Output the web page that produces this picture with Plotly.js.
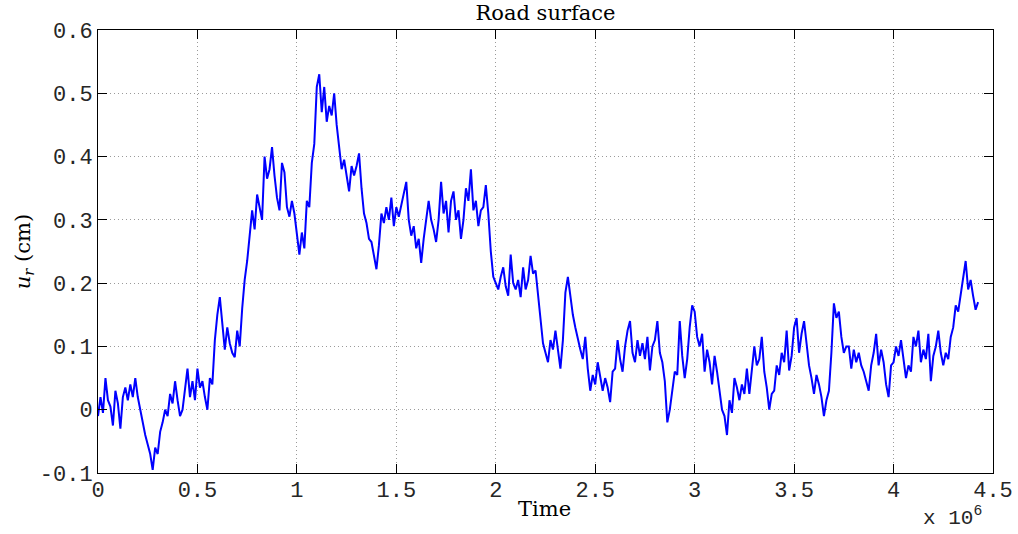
<!DOCTYPE html>
<html>
<head>
<meta charset="utf-8">
<script src="https://cdn.plot.ly/plotly-3.0.1.min.js"></script>
<style>html,body{margin:0;padding:0;background:#fff;}#chart{width:1018px;height:534px;}</style>
</head>
<body>
<div id="chart"></div>
<script>
// Time axis: samples start at t0 and are spaced by dt (x 10^6 scale shown on axis)
const t0 = 0;
const dt = 12500;

// Road surface displacement u_r (cm)
const uR = [
 -0.01, 0.02, -0.005, 0.05, 0.015, 0.005, -0.025, 0.03,
 0.01, -0.03, 0.02, 0.035, 0.015, 0.04, 0.02, 0.05,
 0.02, 0.0, -0.025, -0.04, -0.055, -0.07, -0.095, -0.06,
 -0.07, -0.035, -0.02, 0.0, -0.01, 0.025, 0.01, 0.045,
 0.015, -0.01, 0.0, 0.03, 0.065, 0.02, 0.045, 0.015,
 0.065, 0.035, 0.045, 0.02, 0.0, 0.05, 0.04, 0.11,
 0.15, 0.178, 0.13, 0.095, 0.13, 0.105, 0.09, 0.083,
 0.125, 0.1, 0.16, 0.205, 0.235, 0.275, 0.315, 0.285,
 0.34, 0.32, 0.3, 0.4, 0.365, 0.38, 0.415, 0.37,
 0.335, 0.315, 0.39, 0.375, 0.32, 0.305, 0.33, 0.31,
 0.28, 0.245, 0.28, 0.255, 0.33, 0.32, 0.39, 0.42,
 0.51, 0.53, 0.47, 0.51, 0.455, 0.48, 0.465, 0.5,
 0.45, 0.415, 0.38, 0.395, 0.37, 0.345, 0.385, 0.37,
 0.385, 0.405, 0.35, 0.31, 0.295, 0.27, 0.265, 0.24,
 0.222, 0.26, 0.31, 0.295, 0.32, 0.3, 0.335, 0.29,
 0.32, 0.305, 0.325, 0.345, 0.36, 0.3, 0.275, 0.29,
 0.255, 0.27, 0.232, 0.27, 0.3, 0.33, 0.3, 0.285,
 0.265, 0.3, 0.36, 0.31, 0.33, 0.28, 0.33, 0.345,
 0.3, 0.315, 0.27, 0.3, 0.35, 0.33, 0.38, 0.315,
 0.33, 0.29, 0.315, 0.32, 0.355, 0.31, 0.25, 0.21,
 0.2, 0.19, 0.21, 0.225, 0.195, 0.18, 0.245, 0.2,
 0.19, 0.205, 0.178, 0.225, 0.19, 0.205, 0.243, 0.215,
 0.22, 0.18, 0.14, 0.105, 0.09, 0.075, 0.11, 0.095,
 0.125, 0.09, 0.065, 0.11, 0.185, 0.21, 0.175, 0.15,
 0.13, 0.11, 0.095, 0.08, 0.115, 0.065, 0.03, 0.055,
 0.04, 0.075, 0.055, 0.03, 0.05, 0.035, 0.012, 0.06,
 0.065, 0.11, 0.08, 0.06, 0.1, 0.125, 0.14, 0.09,
 0.075, 0.11, 0.085, 0.105, 0.08, 0.115, 0.062, 0.1,
 0.11, 0.14, 0.09, 0.075, 0.045, -0.02, 0.0, 0.03,
 0.06, 0.055, 0.14, 0.085, 0.05, 0.08, 0.13, 0.165,
 0.155, 0.115, 0.1, 0.12, 0.06, 0.095, 0.075, 0.04,
 0.085, 0.06, 0.03, 0.0, -0.01, -0.04, 0.015, -0.005,
 0.05, 0.035, 0.015, 0.04, 0.025, 0.065, 0.025, 0.06,
 0.1, 0.07, 0.08, 0.115, 0.06, 0.035, 0.0, 0.025,
 0.03, 0.07, 0.055, 0.09, 0.075, 0.125, 0.062, 0.085,
 0.13, 0.145, 0.09, 0.12, 0.14, 0.105, 0.07, 0.05,
 0.025, 0.055, 0.04, 0.02, -0.01, 0.015, 0.03, 0.09,
 0.168, 0.145, 0.155, 0.115, 0.09, 0.1, 0.1, 0.065,
 0.095, 0.075, 0.09, 0.07, 0.06, 0.045, 0.03, 0.07,
 0.09, 0.12, 0.07, 0.095, 0.075, 0.04, 0.02, 0.07,
 0.075, 0.1, 0.085, 0.11, 0.075, 0.05, 0.07, 0.06,
 0.115, 0.1, 0.125, 0.075, 0.095, 0.08, 0.12, 0.045,
 0.085, 0.1, 0.125, 0.09, 0.07, 0.09, 0.08, 0.115,
 0.13, 0.165, 0.155, 0.18, 0.21, 0.235, 0.19, 0.205,
 0.18, 0.158, 0.17
];

// Tick values and labels
const xTickVals = [0, 500000, 1000000, 1500000, 2000000, 2500000, 3000000, 3500000, 4000000, 4500000];
const xTickText = ['0', '0.5', '1', '1.5', '2', '2.5', '3', '3.5', '4', '4.5'];
const yTickVals = [-0.1, 0, 0.1, 0.2, 0.3, 0.4, 0.5, 0.6];
const yTickText = ['-0.1', '0', '0.1', '0.2', '0.3', '0.4', '0.5', '0.6'];

const monoFont = {family: '"Liberation Mono", "DejaVu Sans Mono", monospace', size: 22, color: '#262626'};
const expFont = {family: '"Liberation Mono", "DejaVu Sans Mono", monospace', size: 21, color: '#262626'};
const serifFont = {family: '"DejaVu Serif", "Liberation Serif", serif', size: 21, color: '#000'};

const trace = {
  type: 'scatter',
  mode: 'lines',
  x0: t0,
  dx: dt,
  y: uR,
  line: {color: '#0000ff', width: 2},
  hoverinfo: 'skip'
};

const axisCommon = {
  showline: true,
  linecolor: '#000',
  linewidth: 1,
  mirror: 'ticks',
  ticks: 'inside',
  ticklen: 9,
  tickwidth: 1,
  tickcolor: '#000',
  showgrid: true,
  gridcolor: '#9a9a9a',
  griddash: '1px,3px',
  gridwidth: 1,
  zeroline: false,
  tickfont: monoFont,
  tickmode: 'array'
};

const layout = {
  width: 1018,
  height: 534,
  margin: {l: 98, r: 25, t: 30, b: 61},
  paper_bgcolor: '#fff',
  plot_bgcolor: '#fff',
  showlegend: false,
  title: {text: 'Road surface', font: serifFont, xref: 'paper', x: 0.5, xanchor: 'center', y: 0.977, yanchor: 'middle'},
  xaxis: Object.assign({}, axisCommon, {
    range: [0, 4500000],
    tickvals: xTickVals,
    ticktext: xTickText,
    ticklabelstandoff: -3
  }),
  yaxis: Object.assign({}, axisCommon, {
    range: [-0.1, 0.6],
    tickvals: yTickVals,
    ticktext: yTickText,
    title: {text: '<i>u</i><sub><i>r</i></sub> (cm)', font: serifFont, standoff: 3}
  }),
  annotations: [{
    xref: 'paper', yref: 'paper',
    x: 0.4994, y: -0.082,
    xanchor: 'center', yanchor: 'middle',
    text: 'Time',
    showarrow: false,
    font: serifFont
  }, {
    xref: 'paper', yref: 'paper',
    x: 0.955, y: -0.098,
    xanchor: 'center', yanchor: 'middle',
    text: 'x 10<sup>6</sup>',
    showarrow: false,
    font: expFont
  }]
};

Plotly.newPlot('chart', [trace], layout, {displayModeBar: false, staticPlot: true});
</script>
</body>
</html>
